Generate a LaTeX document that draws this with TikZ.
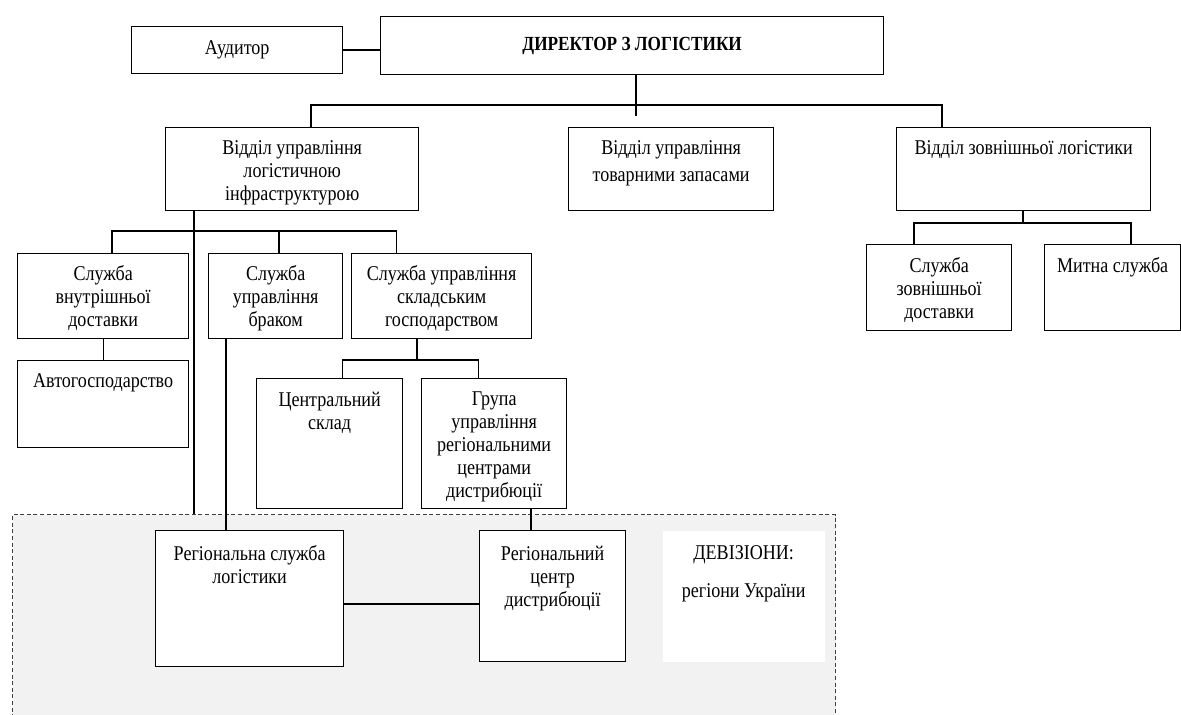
\documentclass[tikz,border=0pt]{standalone}
\usepackage{fontspec}
\setmainfont[FakeStretch=0.86]{Liberation Serif}

\tikzset{
  box/.style={draw, fill=white, inner sep=0pt, anchor=north west},
  txt/.style={align=center, anchor=north, inner sep=0pt, font=\fontsize{10.5}{11.5}\selectfont},
  sz/.style 2 args={minimum width=#1*0.5pt, minimum height=#2*0.5pt},
}

\begin{document}
\begin{tikzpicture}[x=0.5pt, y=-0.5pt, line width=0.65pt]
\useasboundingbox (0,0) rectangle (1181,715);

% divisions
\node[draw=black!75, fill=black!5, dash pattern=on 2pt off 1.3pt, inner sep=0pt, anchor=north west, sz={823}{240}] (region) at (12,514) {};

% top level
\node[box, sz={211}{47}, font=\fontsize{10.5}{11.5}\selectfont] (aud) at (131,26) {Аудитор};
\node[box, sz={503}{58}, font=\fontsize{10}{11.5}\selectfont\bfseries] (dir) at (380,16) {ДИРЕКТОР З ЛОГІСТИКИ};

% departments
\node[box, sz={253}{83}] (infra) at (165,127) {};
\node[txt] (infra-t) at ([yshift=-6.5pt]infra.north) {Відділ управління\\логістичною\\інфраструктурою};
\node[box, sz={205}{83}] (stock) at (568,127) {};
\node[txt] (stock-t) at ([yshift=-6.5pt]stock.north) {Відділ управління\\[2pt]товарними запасами};
\node[box, sz={254}{83}] (ext) at (896,127) {};
\node[txt] (ext-t) at ([yshift=-6.5pt]ext.north) {Відділ зовнішньої логістики};

% services
\node[box, sz={171}{85}] (intdel) at (17,253) {};
\node[txt] (intdel-t) at ([yshift=-6pt]intdel.north) {Служба\\внутрішньої\\доставки};
\node[box, sz={134}{85}] (defect) at (208,253) {};
\node[txt] (defect-t) at ([yshift=-6pt]defect.north) {Служба\\управління\\браком};
\node[box, sz={180}{85}] (wh) at (351,253) {};
\node[txt] (wh-t) at ([yshift=-6pt]wh.north) {Служба управління\\складським\\господарством};
\node[box, sz={171}{87}] (auto) at (17,360) {};
\node[txt] (auto-t) at ([yshift=-6.5pt]auto.north) {Автогосподарство};
\node[box, sz={146}{130}] (central) at (256,378) {};
\node[txt] (central-t) at ([yshift=-6.5pt]central.north) {Центральний\\склад};
\node[box, sz={145}{130}] (group) at (421,378) {};
\node[txt] (group-t) at ([yshift=-6.5pt]group.north) {Група\\управління\\регіональними\\центрами\\дистрибюції};
\node[box, sz={145}{86}] (extdel) at (866,244) {};
\node[txt] (extdel-t) at ([yshift=-6.5pt]extdel.north) {Служба\\зовнішньої\\доставки};
\node[box, sz={136}{86}] (customs) at (1044,244) {};
\node[txt] (customs-t) at ([yshift=-6.5pt]customs.north) {Митна служба};

% regions
\node[box, sz={188}{136}] (regsvc) at (155,530) {};
\node[txt] (regsvc-t) at ([yshift=-7.5pt]regsvc.north) {Регіональна служба\\логістики};
\node[box, sz={146}{131}] (regctr) at (479,530) {};
\node[txt] (regctr-t) at ([yshift=-7.5pt]regctr.north) {Регіональний\\центр\\дистрибюції};
\node[box, draw=none, sz={162}{131}] (div) at (662,530) {};
\node[txt] (div-t) at ([yshift=-7.5pt]div.north) {ДЕВІЗІОНИ:\\[7.5pt]регіони України};

% junctions
\coordinate (j-top) at (636,105);
\coordinate (j-l) at (311,105);
\coordinate (j-r) at (942,105);
\coordinate (k-long) at (194,231);
\coordinate (k-a) at (112,231);
\coordinate (k-b) at (279,231);
\coordinate (k-c) at (396.5,231);
\coordinate (k-def) at (226,0);
\coordinate (m) at (417,360);
\coordinate (m-a) at (342.5,360);
\coordinate (m-b) at (478.5,360);
\coordinate (n) at (531,0);
\coordinate (p) at (0,604);
\coordinate (q) at (1023,223);
\coordinate (q-a) at (914,223);
\coordinate (q-b) at (1131,223);

\draw (aud) -- (aud -| dir.west);
\draw (dir.south -| j-top) -- ++(0,41);
\draw (infra.north -| j-l) -- (j-l) -- (j-r) -- (ext.north -| j-r);

\draw (infra.south -| k-long) -- (region.north -| k-long);
\draw (intdel.north -| k-a) -- (k-a) -- (k-c) -- (wh.north -| k-c);
\draw (defect.north -| k-b) -- (k-b);
\draw (intdel) -- (auto);
\draw (defect.south -| k-def) -- (regsvc.north -| k-def);

\draw (wh.south -| m) -- (m);
\draw (central.north -| m-a) -- (m-a) -- (m-b) -- (group.north -| m-b);
\draw (group.south -| n) -- (regctr.north -| n);
\draw (regsvc.east |- p) -- (regctr.west |- p);

\draw (ext.south -| q) -- (q);
\draw (extdel.north -| q-a) -- (q-a) -- (q-b) -- (customs.north -| q-b);
\end{tikzpicture}
\end{document}
